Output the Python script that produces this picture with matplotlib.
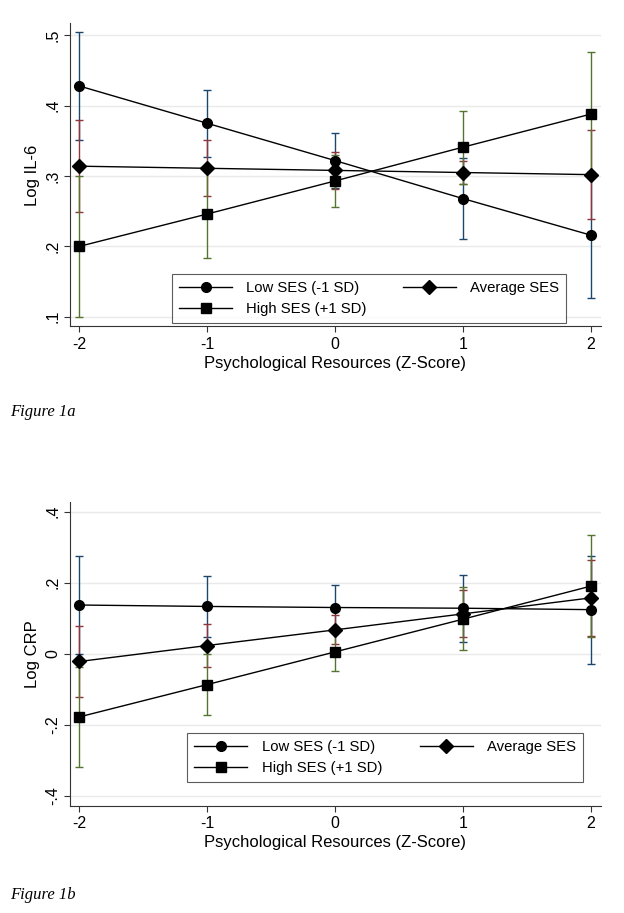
import matplotlib.pyplot as plt
from matplotlib.lines import Line2D

plt.rcParams['font.family'] = ['Liberation Sans', 'DejaVu Sans']

x = [-2, -1, 0, 1, 2]
labels = ["Low SES (-1 SD)", "High SES (+1 SD)", "Average SES"]

# Figure 1a - Log IL-6
il6_low = [0.428, 0.375, 0.322, 0.268, 0.216]
il6_low_lo = [0.351, 0.327, 0.283, 0.210, 0.126]
il6_low_hi = [0.505, 0.423, 0.361, 0.326, 0.306]
il6_avg = [0.314, 0.311, 0.308, 0.305, 0.302]
il6_avg_lo = [0.249, 0.271, 0.282, 0.288, 0.239]
il6_avg_hi = [0.379, 0.351, 0.334, 0.322, 0.365]
il6_high = [0.200, 0.246, 0.293, 0.341, 0.388]
il6_high_lo = [0.099, 0.184, 0.256, 0.289, 0.299]
il6_high_hi = [0.300, 0.308, 0.330, 0.393, 0.477]

# Figure 1b - Log CRP
crp_low = [0.137, 0.133, 0.130, 0.128, 0.124]
crp_low_lo = [0.000, 0.048, 0.068, 0.033, -0.028]
crp_low_hi = [0.274, 0.218, 0.192, 0.222, 0.275]
crp_avg = [-0.022, 0.023, 0.067, 0.112, 0.157]
crp_avg_lo = [-0.122, -0.037, 0.026, 0.046, 0.050]
crp_avg_hi = [0.078, 0.083, 0.108, 0.178, 0.263]
crp_high = [-0.178, -0.087, 0.005, 0.097, 0.190]
crp_high_lo = [-0.318, -0.172, -0.050, 0.010, 0.048]
crp_high_hi = [-0.038, 0.000, 0.060, 0.187, 0.334]

il6_ticks = [0.1, 0.2, 0.3, 0.4, 0.5]
il6_ticklabels = [".1", ".2", ".3", ".4", ".5"]
crp_ticks = [-0.4, -0.2, 0.0, 0.2, 0.4]
crp_ticklabels = ["-.4", "-.2", "0", ".2", ".4"]

navy = "#1a476f"
maroon = "#90353b"
green = "#55752f"


def draw_panel(ax, low, low_lo, low_hi, avg, avg_lo, avg_hi, high, high_lo, high_hi,
               ticks, ticklabels, ylim, ylabel, legbox):
    for vals, lo, hi, col in [(low, low_lo, low_hi, navy),
                              (avg, avg_lo, avg_hi, maroon),
                              (high, high_lo, high_hi, green)]:
        err = [[v - l for v, l in zip(vals, lo)], [h - v for v, h in zip(vals, hi)]]
        ax.errorbar(x, vals, yerr=err, fmt="none", ecolor=col, elinewidth=1.0,
                    capsize=3, capthick=1.0, zorder=2)
    ax.plot(x, low, color="black", lw=1.0, marker="o", ms=7, zorder=3)
    ax.plot(x, avg, color="black", lw=1.0, marker="D", ms=7.5, zorder=3)
    ax.plot(x, high, color="black", lw=1.0, marker="s", ms=7, zorder=3)

    ax.set_xlim(-2.078, 2.082)
    ax.set_ylim(*ylim)
    ax.set_xticks(x)
    ax.set_xticklabels(["-2", "-1", "0", "1", "2"])
    ax.set_yticks(ticks)
    ax.set_yticklabels(ticklabels, rotation=90, va="center")
    ax.tick_params(labelsize=11.5, length=4.3, width=0.8, color="#333333")
    ax.tick_params(axis="y", pad=2.5)
    ax.tick_params(axis="x", pad=3)
    ax.grid(axis="y", color="#eaeaea", lw=1.0)
    ax.set_axisbelow(True)
    for s in ["top", "right"]:
        ax.spines[s].set_visible(False)
    for s in ["left", "bottom"]:
        ax.spines[s].set_color("#333333")
        ax.spines[s].set_linewidth(0.8)
    ax.set_xlabel("Psychological Resources (Z-Score)", fontsize=12, labelpad=3)
    ax.set_ylabel(ylabel, fontsize=12, labelpad=4)

    handles = [Line2D([], [], color="black", lw=1.0, marker="o", ms=7),
               Line2D([], [], color="black", lw=1.0, marker="s", ms=7),
               Line2D([], [], color="black", lw=1.0, marker="D", ms=7.5)]
    leg = ax.legend(handles, labels, ncol=2, loc="lower left",
                    bbox_to_anchor=legbox, mode="expand", borderaxespad=0,
                    fontsize=10.7, handlelength=3.6, frameon=True, fancybox=False,
                    edgecolor="#333333", borderpad=0.45, handletextpad=0.95,
                    labelspacing=0.5)
    leg.get_frame().set_linewidth(0.8)


fig = plt.figure(figsize=(6.24, 9.13), dpi=100)
ax1 = fig.add_axes([0.1114, 0.6424, 0.8518, 0.3319])
ax2 = fig.add_axes([0.1114, 0.1172, 0.8518, 0.3333])

draw_panel(ax1, il6_low, il6_low_lo, il6_low_hi, il6_avg, il6_avg_lo, il6_avg_hi,
           il6_high, il6_high_lo, il6_high_hi, il6_ticks, il6_ticklabels,
           (0.086, 0.517), "Log IL-6", (0.193, 0.0116, 0.741, 0.165))
draw_panel(ax2, crp_low, crp_low_lo, crp_low_hi, crp_avg, crp_avg_lo, crp_avg_hi,
           crp_high, crp_high_lo, crp_high_hi, crp_ticks, crp_ticklabels,
           (-0.429, 0.428), "Log CRP", (0.2216, 0.0789, 0.7445, 0.168))

fig.text(0.016, 1 - 412 / 913, "Figure 1a", family="Liberation Serif",
         style="italic", fontsize=12, va="center")
fig.text(0.016, 1 - 895 / 913, "Figure 1b", family="Liberation Serif",
         style="italic", fontsize=12, va="center")

fig.savefig("out.png", dpi=100)
